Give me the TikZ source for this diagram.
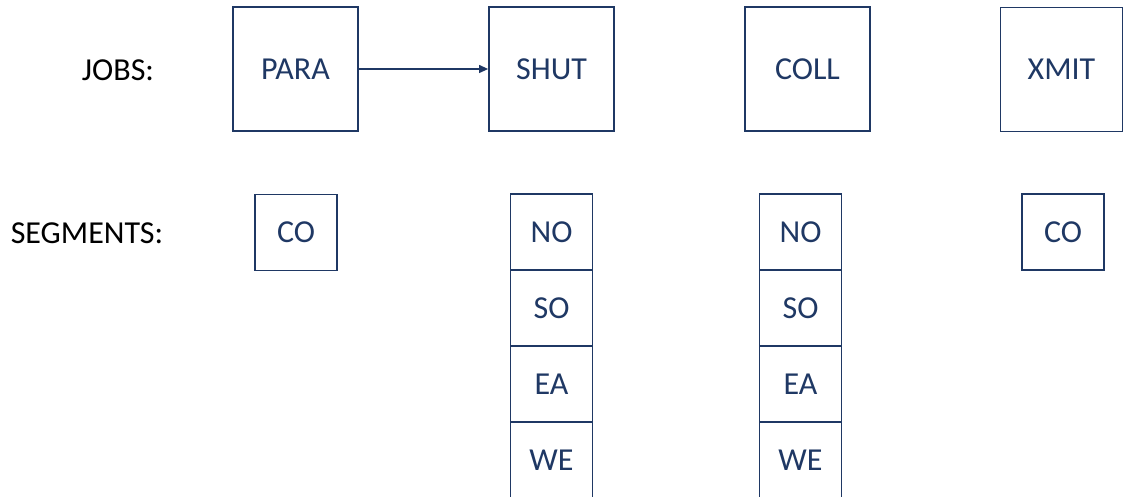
\documentclass[tikz,border=0pt]{standalone}
\usepackage{fontspec}
\setmainfont{Carlito}
\usetikzlibrary{arrows.meta}
\definecolor{navy}{HTML}{1F3864}
\begin{document}
\begin{tikzpicture}[x=1pt,y=-1pt,
    job/.style={draw=navy, line width=1.8pt, minimum width=125pt, minimum height=124pt, text=navy, font=\fontsize{32}{34}\selectfont},
    seg/.style={draw=navy, line width=1.8pt, minimum width=82pt, minimum height=76pt, text=navy, font=\fontsize{32}{34}\selectfont},
    lbl/.style={text=black, font=\fontsize{32}{34}\selectfont}]
    \useasboundingbox (0,0) rectangle (1123,497);

    \node[lbl] (jobs) at (118, 70) {JOBS:};
    \node[lbl] (segments) at (87, 233) {SEGMENTS:};

    \node[job] (para) at (295.5, 69) {PARA};
    \node[job] (shut) at (551.5, 69) {SHUT};
    \node[job] (coll) at (807.5, 69) {COLL};
    \node[job, minimum width=122pt] (xmit) at (1061.5, 69.5) {XMIT};

    \draw [-{Triangle[length=9pt,width=8pt]}, navy, line width=1.2pt] (para) -- (shut);

    \node[seg] (paraco) at (296, 232.5) {CO};

    \node[seg] (shutno) at (551.5, 232) {NO};
    \node[seg] (shutso) at (551.5, 308) {SO};
    \node[seg] (shutea) at (551.5, 384) {EA};
    \node[seg] (shutwe) at (551.5, 460) {WE};

    \node[seg] (collno) at (800.5, 232) {NO};
    \node[seg] (collso) at (800.5, 308) {SO};
    \node[seg] (collea) at (800.5, 384) {EA};
    \node[seg] (collwe) at (800.5, 460) {WE};

    \node[seg] (xmitco) at (1063, 232) {CO};
\end{tikzpicture}
\end{document}
